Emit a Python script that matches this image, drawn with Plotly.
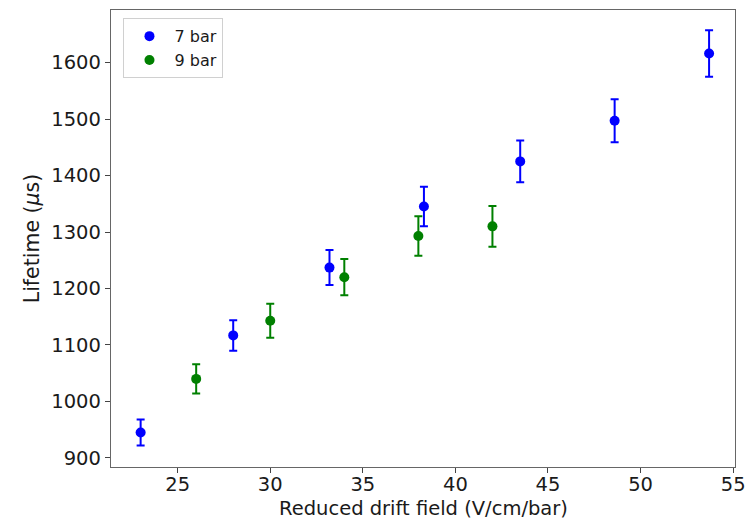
import plotly.graph_objects as go

# Electron lifetime vs reduced drift field for two pressures
field_7bar = [23.0, 28.0, 33.2, 38.3, 43.5, 48.6, 53.7]
life_7bar = [945, 1117, 1237, 1345, 1425, 1497, 1616]
err_7bar = [23, 27, 31, 35, 37, 38, 41]

field_9bar = [26.0, 30.0, 34.0, 38.0, 42.0]
life_9bar = [1040, 1143, 1220, 1293, 1310]
err_9bar = [26, 30, 32, 35, 36]

x_ticks = [25, 30, 35, 40, 45, 50, 55]
y_ticks = [900, 1000, 1100, 1200, 1300, 1400, 1500, 1600]

x_title = "Reduced drift field (V/cm/bar)"
y_title = "Lifetime (<i>μ</i>s)"

font_family = "DejaVu Sans"

fig = go.Figure()
for name, xs, ys, es, color in [
    ("7 bar", field_7bar, life_7bar, err_7bar, "#0000ff"),
    ("9 bar", field_9bar, life_9bar, err_9bar, "#008000"),
]:
    fig.add_trace(go.Scatter(
        x=xs, y=ys, name=name, mode="markers",
        marker=dict(color=color, size=10),
        error_y=dict(type="data", array=es, visible=True,
                     color=color, thickness=2, width=4),
    ))

axis_common = dict(
    showgrid=False, zeroline=False, showline=True, mirror=True,
    linecolor="#666666", linewidth=1.3, automargin=False,
    ticks="outside", ticklen=5, tickcolor="#444444", tickwidth=1,
    tickfont=dict(family=font_family, size=19.5, color="#1a1a1a"),
)

fig.update_layout(
    width=753, height=521,
    margin=dict(l=111, r=18, t=10, b=54),
    paper_bgcolor="white", plot_bgcolor="white",
    font=dict(family=font_family, color="#1a1a1a"),
    xaxis=dict(range=[21.4, 55.1], tickvals=x_ticks,
               ticklabelstandoff=-6, **axis_common),
    yaxis=dict(range=[884, 1693], tickvals=y_ticks,
               title=dict(text=y_title, font=dict(size=20.5), standoff=6),
               **axis_common),
    legend=dict(x=0.02, y=0.982, xanchor="left", yanchor="top",
                bgcolor="rgba(255,255,255,0.8)", bordercolor="#d0d0d0",
                borderwidth=1, font=dict(size=16),
                itemwidth=40, tracegroupgap=0),
    showlegend=True,
)

# x-axis title placed just below the tick labels
fig.add_annotation(
    text=x_title, xref="paper", yref="paper", x=0.5, y=0,
    xanchor="center", yanchor="bottom", yshift=-54, borderpad=0,
    showarrow=False,
    font=dict(family=font_family, size=19.5, color="#1a1a1a"),
)

fig.write_html("out.html")
